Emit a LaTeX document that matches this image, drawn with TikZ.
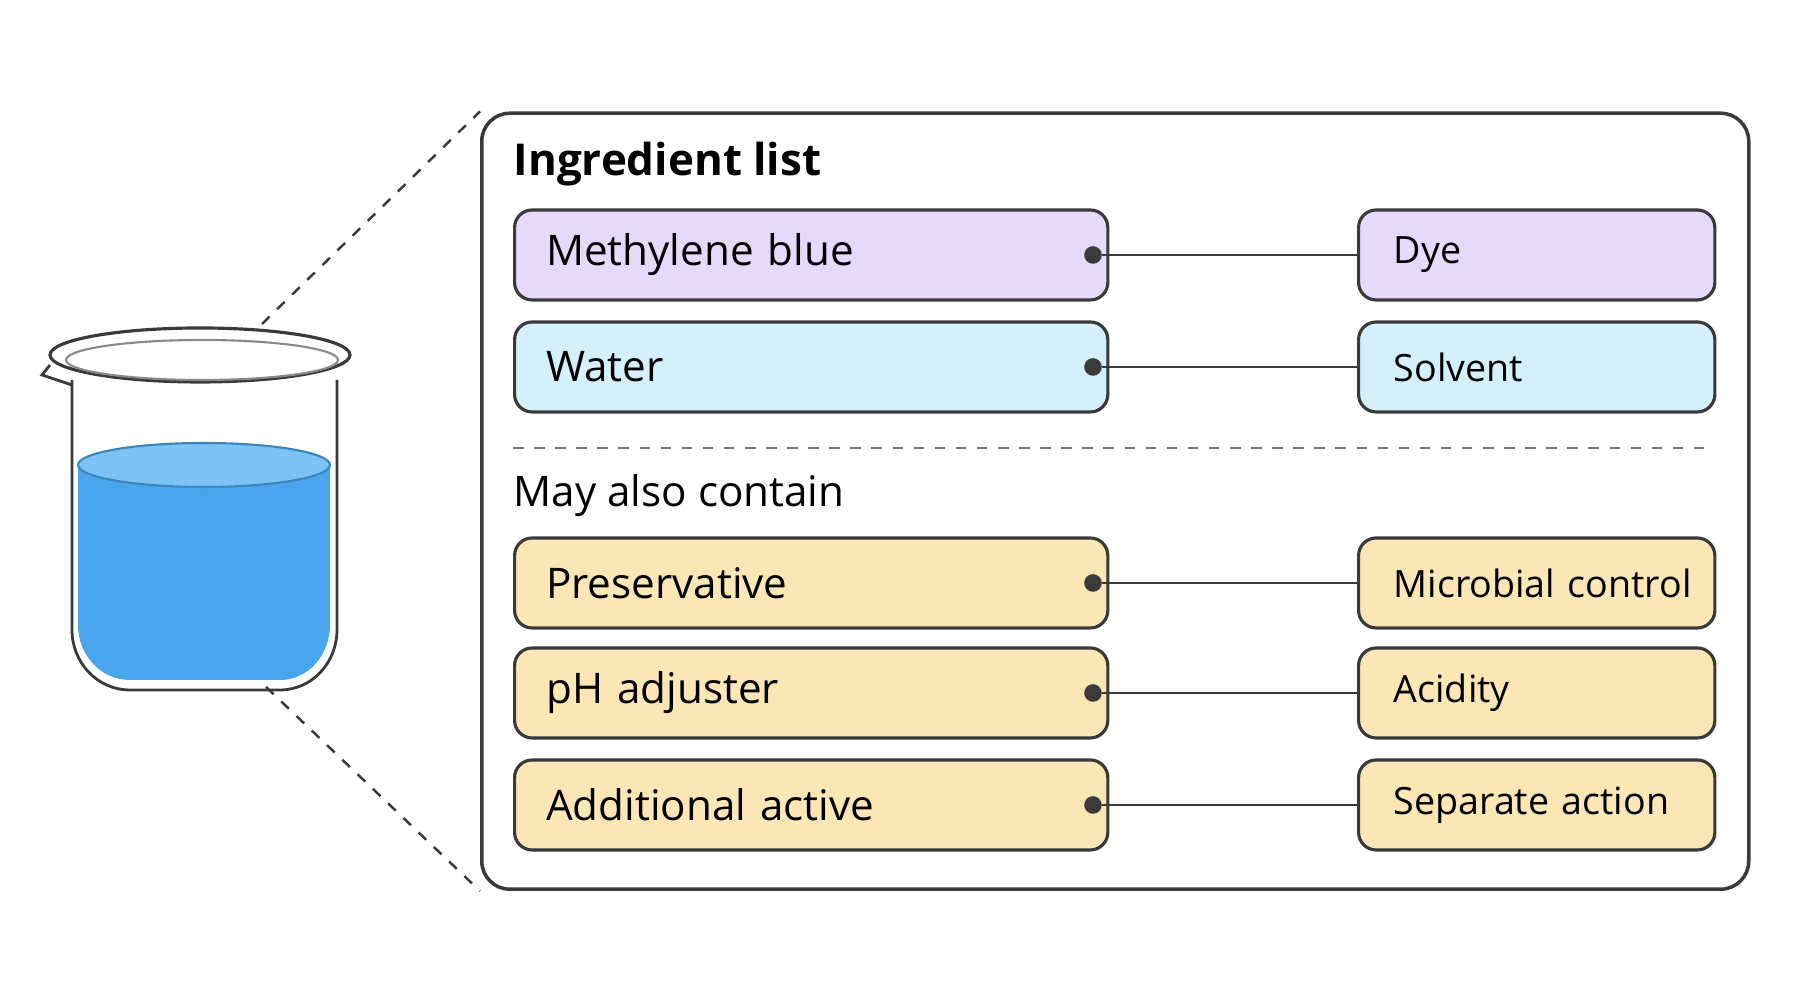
\documentclass[tikz,border=0pt]{standalone}
\usepackage{fontspec}
\setmainfont{Open Sans}
\usetikzlibrary{positioning}
\definecolor{dyefill}{HTML}{E6DAFA}
\definecolor{solvfill}{HTML}{D3F0FB}
\definecolor{optfill}{HTML}{FBE6B6}
\definecolor{edge}{HTML}{3A3A3A}
\definecolor{liquid}{HTML}{4AA6EC}
\definecolor{liquidtop}{HTML}{7CC2F3}
\begin{document}
\begin{tikzpicture}[
			     item/.style={draw=edge,line width=0.9pt,rounded corners=5pt,minimum height=0.9cm,anchor=west,inner xsep=9pt,text width=5.3cm,font=\fontsize{12}{14}\selectfont},
			     role/.style={draw=edge,line width=0.9pt,rounded corners=5pt,minimum height=0.9cm,anchor=west,inner xsep=10pt,text width=2.86cm,font=\fontsize{10.7}{13}\selectfont},
			     head/.style={anchor=west,inner sep=0pt},
			     link/.style={draw=edge,line width=0.8pt},
			     dot/.style={circle,fill=edge,inner sep=0pt,minimum size=5pt}
			     ]
\useasboundingbox (0,0) rectangle (18,10);
% beaker
\fill[liquid] (0.78,5.35) -- (0.78,3.75) to[out=-90,in=180] (1.3,3.2) -- (2.8,3.2) to[out=0,in=-90] (3.3,3.75) -- (3.3,5.35) -- cycle;
\fill[liquidtop] (2.04,5.35) ellipse (1.26 and 0.22);
\draw[liquid!80!black,line width=0.6pt] (2.04,5.35) ellipse (1.26 and 0.22);
\draw[edge,line width=0.8pt] (0.72,6.2) -- (0.72,3.7) to[out=-90,in=180] (1.3,3.1) -- (2.8,3.1) to[out=0,in=-90] (3.37,3.7) -- (3.37,6.2);
\draw[edge,line width=0.9pt] (2.0,6.45) ellipse (1.5 and 0.27);
\draw[edge!60,line width=0.6pt] (2.02,6.4) ellipse (1.36 and 0.2);
\draw[edge,line width=0.8pt] (0.5,6.35) -- (0.42,6.25) -- (0.72,6.15);
\coordinate (bk-top) at (2.62,6.76);
\coordinate (bk-bot) at (2.66,3.13);
% panel
\node[draw=edge,line width=1pt,rounded corners=8pt,minimum width=12.67cm,minimum height=7.76cm,anchor=south west] (panel) at (4.80,1.09) {};
\draw[edge,dashed,line width=0.7pt] (bk-top) -- (panel.north west);
\draw[edge,dashed,line width=0.7pt] (bk-bot) -- (panel.south west);
\node[head,font=\fontsize{12.5}{14}\selectfont\bfseries] (t1) at (5.13,8.36) {Ingredient list};
\node[head,font=\fontsize{12}{14}\selectfont] (t2) at (5.13,5.04) {May also contain};
\draw[edge!70,dashed,line width=0.7pt] (5.13,5.52) -- (17.14,5.52);
% rows
\foreach \nm/\y/\col/\lt/\rt in {mb/7.45/dyefill/Methylene blue/Dye,
                                 wa/6.33/solvfill/Water/Solvent,
                                 pr/4.17/optfill/Preservative/Microbial control,
                                 ph/3.07/optfill/pH adjuster/Acidity,
                                 ad/1.95/optfill/Additional active/Separate action}{
  \node[item,fill=\col] (\nm-l) at (5.13,\y) {\lt};
  \node[role,fill=\col] (\nm-r) at (13.57,\y) {\mbox{\rt}};
  \node[dot] (\nm-d) at (10.93,\y) {};
  \draw[link] (\nm-d) -- (\nm-r.west);
}
\end{tikzpicture}
\end{document}
